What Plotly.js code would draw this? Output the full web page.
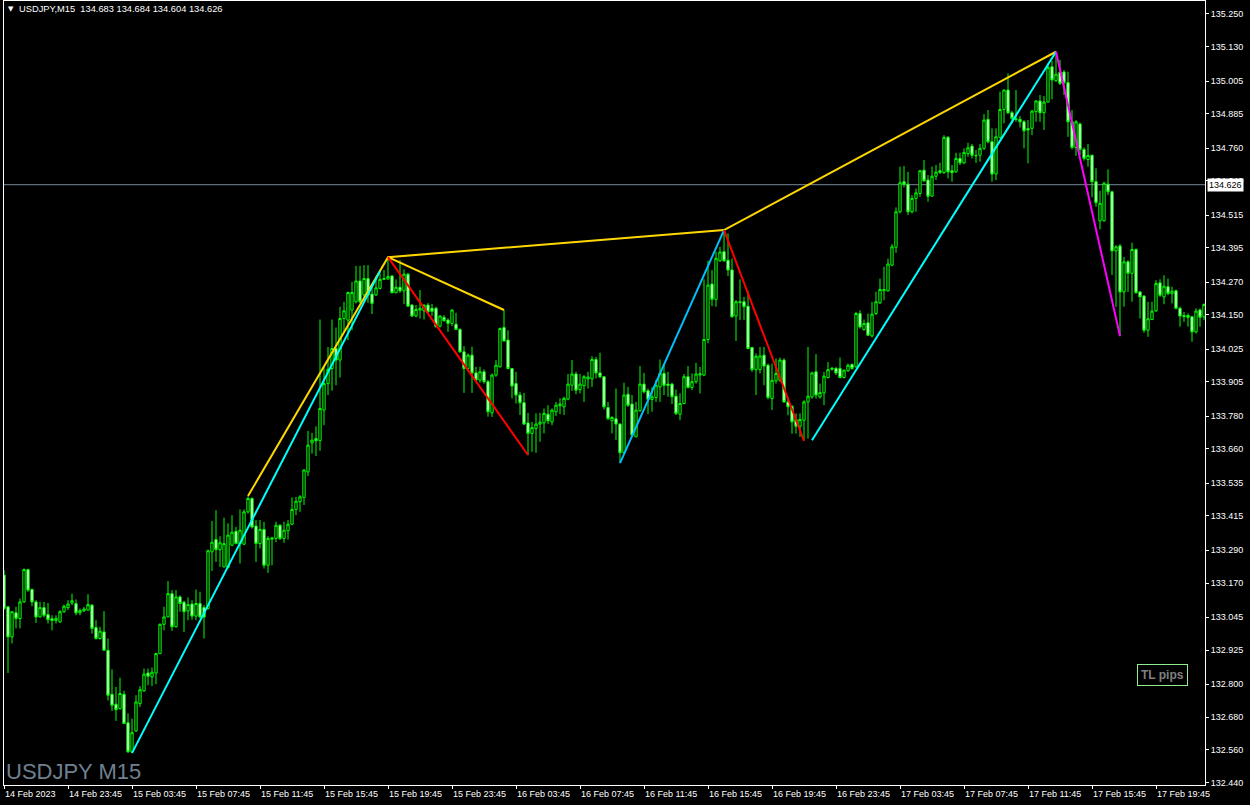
<!DOCTYPE html>
<html>
<head>
<meta charset="utf-8">
<script src="https://cdn.plot.ly/plotly-3.0.1.min.js"></script>
<style>html,body{margin:0;padding:0;background:#000;}#chart{width:1250px;height:805px;}</style>
</head>
<body>
<div id="chart"></div>
<script>
// ---- DATA ----
const symbol = "USDJPY,M15";
const headerValues = ["134.683", "134.684", "134.604", "134.626"];
const watermark = "USDJPY M15";
const buttonLabel = "TL pips";
const bidPrice = 134.626;

const xTickIdx = [0,16,32,48,64,80,96,112,128,144,160,176,192,208,224,240,256,272,288];
const xTickLabels = ["14 Feb 2023","14 Feb 23:45","15 Feb 03:45","15 Feb 07:45","15 Feb 11:45","15 Feb 15:45",
  "15 Feb 19:45","15 Feb 23:45","16 Feb 03:45","16 Feb 07:45","16 Feb 11:45","16 Feb 15:45","16 Feb 19:45",
  "16 Feb 23:45","17 Feb 03:45","17 Feb 07:45","17 Feb 11:45","17 Feb 15:45","17 Feb 19:45"];
const yTickVals = [135.250,135.130,135.005,134.885,134.760,134.640,134.515,134.395,134.270,134.150,134.025,133.905,
  133.780,133.660,133.535,133.415,133.290,133.170,133.045,132.925,132.800,132.680,132.560,132.440];

const opens = [
133.199,133.083,132.973,133.061,133.040,133.101,133.219,133.146,133.101,133.046,
133.080,133.055,133.039,133.033,133.028,133.065,133.080,133.097,133.095,133.061,
133.068,133.071,133.089,133.007,132.967,132.991,132.924,132.763,132.727,132.711,
132.763,132.659,132.553,132.629,132.729,132.776,132.841,132.827,132.841,132.912,
133.019,133.046,133.131,133.010,133.119,133.100,133.068,133.093,133.049,133.095,
133.080,133.077,133.284,133.329,133.292,133.229,133.227,133.308,133.359,133.314,
133.312,133.430,133.479,133.378,133.314,133.366,133.235,133.330,133.333,133.381,
133.333,133.361,133.385,133.439,133.467,133.483,133.576,133.682,133.698,133.690,
133.802,133.899,133.954,134.027,133.985,134.137,134.131,134.168,134.198,134.274,
134.223,134.283,134.226,134.223,134.247,134.280,134.281,134.292,134.231,134.251,
134.238,134.299,134.186,134.146,134.168,134.165,134.186,134.174,134.174,134.109,
134.141,134.131,134.119,134.116,134.097,134.015,133.954,134.003,133.938,133.912,
133.942,133.906,133.792,133.930,133.960,134.104,134.058,133.954,133.899,133.857,
133.829,133.755,133.717,133.735,133.751,133.755,133.787,133.759,133.796,133.818,
133.814,133.842,133.893,133.934,133.877,133.891,133.916,133.916,133.987,133.938,
133.924,133.812,133.763,133.770,133.751,133.646,133.860,133.824,133.704,133.800,
133.897,133.873,133.841,133.848,133.887,133.936,133.897,133.897,133.853,133.787,
133.826,133.924,133.885,133.906,133.930,133.930,134.060,134.263,134.207,134.348,
134.381,134.350,134.314,134.146,134.198,134.198,134.182,134.031,133.950,133.950,
134.003,133.966,133.844,133.909,133.911,133.985,133.832,133.816,133.768,133.743,
133.765,133.832,133.850,133.942,133.850,133.865,133.921,133.955,133.954,133.954,
133.921,133.946,133.969,133.960,134.155,134.097,134.121,134.073,134.155,134.194,
134.238,134.238,134.332,134.397,134.527,134.637,134.628,134.527,134.576,134.594,
134.679,134.643,134.584,134.657,134.677,134.670,134.799,134.677,134.673,134.722,
134.706,134.740,134.767,134.733,134.734,134.759,134.865,134.783,134.665,134.799,
134.901,134.972,134.889,134.867,134.865,134.856,134.831,134.832,134.893,134.932,
134.889,134.928,135.057,135.006,135.037,135.038,134.999,134.856,134.762,134.848,
134.755,134.718,134.734,134.637,134.494,134.494,134.628,134.600,134.384,134.402,
134.234,134.344,134.302,134.389,134.234,134.219,134.094,134.133,134.165,134.267,
134.216,134.253,134.228,134.238,134.174,134.148,134.148,134.143,134.088,134.168,
134.143];

const highs = [
133.217,133.085,133.067,133.083,133.113,133.223,133.222,133.150,133.107,133.101,
133.101,133.097,133.052,133.052,133.071,133.091,133.107,133.131,133.110,133.077,
133.083,133.129,133.093,133.034,133.010,133.067,132.967,132.854,132.790,132.824,
132.776,132.693,132.674,132.760,132.793,132.857,132.857,132.861,132.915,133.022,
133.083,133.177,133.144,133.144,133.125,133.105,133.117,133.107,133.146,133.138,
133.089,133.292,133.397,133.436,133.341,133.409,133.388,133.418,133.375,133.439,
133.439,133.487,133.483,133.400,133.400,133.394,133.341,133.339,133.394,133.385,
133.394,133.400,133.483,133.485,133.491,133.585,133.726,133.719,133.743,134.133,
133.960,134.033,134.133,134.104,134.180,134.198,134.235,134.271,134.329,134.329,
134.332,134.332,134.265,134.290,134.302,134.314,134.363,134.296,134.280,134.350,
134.316,134.304,134.190,134.186,134.241,134.190,134.194,134.190,134.180,134.149,
134.149,134.137,134.170,134.158,134.101,134.036,134.009,134.034,133.960,133.960,
133.951,133.912,133.936,133.985,134.104,134.168,134.094,133.954,133.942,133.869,
133.865,133.792,133.759,133.790,133.792,133.808,133.820,133.808,133.832,133.845,
133.851,133.934,133.985,133.942,133.934,133.930,133.942,133.999,133.997,134.012,
133.926,133.832,133.780,133.881,133.753,133.902,133.887,133.857,133.832,133.963,
133.938,133.881,133.885,133.912,133.987,133.972,133.942,133.902,133.877,133.863,
133.934,133.963,133.936,133.975,133.960,134.280,134.348,134.314,134.381,134.399,
134.460,134.448,134.356,134.204,134.280,134.216,134.238,134.033,134.009,134.033,
134.033,133.972,133.972,133.991,133.994,133.991,133.850,133.820,133.790,133.790,
133.838,134.033,133.942,134.007,133.899,133.942,133.978,133.960,133.960,133.994,
133.950,133.972,133.972,134.161,134.167,134.133,134.155,134.198,134.235,134.283,
134.326,134.356,134.409,134.543,134.692,134.694,134.673,134.588,134.612,134.679,
134.716,134.661,134.692,134.698,134.706,134.807,134.804,134.698,134.743,134.743,
134.759,134.779,134.775,134.753,134.775,134.884,134.899,134.832,134.832,134.966,
134.974,135.033,134.896,134.972,134.877,134.862,134.862,134.899,134.935,134.954,
134.950,135.070,135.079,135.112,135.082,135.045,135.039,134.899,134.862,134.853,
134.762,134.775,134.734,134.686,134.604,134.637,134.682,134.604,134.405,134.409,
134.362,134.350,134.414,134.393,134.238,134.222,134.198,134.198,134.277,134.280,
134.295,134.283,134.253,134.243,134.180,134.161,134.155,134.146,134.174,134.174,
134.192];

const lows = [
133.071,132.841,132.949,133.004,133.004,133.097,133.138,133.085,133.024,133.044,
133.044,133.022,132.997,133.022,133.024,133.061,133.071,133.089,133.052,133.052,
133.065,133.068,132.985,132.963,132.963,132.922,132.741,132.702,132.666,132.707,
132.654,132.549,132.549,132.626,132.717,132.772,132.796,132.793,132.800,132.910,
132.997,133.044,132.995,133.007,133.065,132.991,133.034,133.036,133.034,133.040,
132.967,133.073,133.214,133.247,133.229,133.227,133.223,133.305,133.312,133.241,
133.308,133.424,133.369,133.247,133.296,133.223,133.207,133.235,133.320,133.327,
133.317,133.329,133.381,133.418,133.430,133.455,133.561,133.643,133.634,133.653,
133.747,133.857,133.873,133.893,133.921,134.088,134.058,134.094,134.192,134.192,
134.204,134.194,134.153,134.219,134.243,134.277,134.280,134.229,134.229,134.231,
134.190,134.180,134.143,134.141,134.137,134.133,134.158,134.146,134.104,134.104,
134.125,134.088,134.109,134.094,134.012,133.865,133.942,133.865,133.906,133.902,
133.899,133.778,133.777,133.924,133.958,134.052,133.951,133.845,133.826,133.784,
133.747,133.637,133.650,133.646,133.686,133.717,133.751,133.747,133.780,133.787,
133.784,133.838,133.873,133.860,133.863,133.832,133.881,133.887,133.918,133.918,
133.804,133.765,133.717,133.692,133.610,133.643,133.814,133.704,133.704,133.796,
133.863,133.787,133.796,133.832,133.832,133.857,133.851,133.824,133.784,133.765,
133.824,133.881,133.875,133.899,133.863,133.926,134.046,134.182,134.180,134.344,
134.344,134.292,134.141,134.055,134.131,134.131,134.024,133.942,133.857,133.936,
133.893,133.841,133.802,133.899,133.905,133.829,133.783,133.716,133.716,133.704,
133.692,133.698,133.844,133.844,133.844,133.820,133.918,133.946,133.930,133.918,
133.918,133.942,133.950,133.958,134.100,134.092,134.073,134.068,134.149,134.190,
134.204,134.235,134.328,134.377,134.521,134.616,134.515,134.521,134.527,134.582,
134.637,134.564,134.582,134.643,134.665,134.665,134.649,134.637,134.670,134.698,
134.701,134.728,134.722,134.706,134.710,134.753,134.777,134.637,134.643,134.795,
134.850,134.884,134.850,134.856,134.835,134.759,134.704,134.807,134.856,134.856,
134.826,134.926,134.938,135.002,134.990,134.954,134.801,134.755,134.731,134.734,
134.714,134.692,134.580,134.545,134.463,134.491,134.588,134.296,134.180,134.072,
134.180,134.234,134.198,134.228,134.137,134.085,134.070,134.131,134.161,134.216,
134.189,134.222,134.192,134.170,134.107,134.125,134.107,134.052,134.082,134.107,
134.131];

const closes = [
133.077,132.973,133.065,133.040,133.101,133.219,133.144,133.101,133.046,133.080,
133.052,133.036,133.033,133.041,133.065,133.085,133.093,133.105,133.061,133.069,
133.075,133.091,133.004,132.967,132.994,132.924,132.760,132.723,132.707,132.766,
132.656,132.553,132.623,132.735,132.780,132.837,132.829,132.844,132.912,133.019,
133.046,133.131,133.010,133.119,133.095,133.065,133.091,133.049,133.095,133.046,
133.046,133.288,133.319,133.292,133.317,133.314,133.345,133.356,133.314,133.363,
133.430,133.479,133.375,133.314,133.366,133.235,133.333,133.335,133.381,133.333,
133.363,133.385,133.439,133.469,133.485,133.583,133.674,133.692,133.690,133.808,
133.899,133.951,134.027,133.985,134.137,134.165,134.232,134.232,134.274,134.198,
134.283,134.223,134.192,134.249,134.280,134.283,134.290,134.231,134.251,134.238,
134.299,134.182,134.146,134.170,134.174,134.185,134.161,134.163,134.107,134.146,
134.129,134.119,134.168,134.097,134.015,133.954,134.003,133.938,133.912,133.942,
133.906,133.796,133.930,133.966,134.100,134.055,133.954,133.890,133.857,133.829,
133.751,133.717,133.738,133.751,133.758,133.790,133.763,133.802,133.820,133.824,
133.845,133.897,133.934,133.875,133.897,133.924,133.923,133.987,133.938,133.924,
133.814,133.771,133.775,133.751,133.646,133.857,133.820,133.711,133.802,133.897,
133.869,133.841,133.851,133.893,133.936,133.893,133.892,133.851,133.790,133.826,
133.924,133.885,133.906,133.934,133.935,134.060,134.259,134.207,134.357,134.380,
134.348,134.314,134.143,134.198,134.195,134.180,134.027,133.950,133.999,134.000,
133.963,133.848,133.911,133.936,133.985,133.832,133.814,133.759,133.743,133.768,
133.832,133.853,133.938,133.857,133.866,133.926,133.950,133.952,133.938,133.921,
133.948,133.966,133.954,134.155,134.106,134.119,134.076,134.153,134.198,134.243,
134.243,134.336,134.399,134.527,134.633,134.628,134.527,134.576,134.596,134.677,
134.640,134.584,134.657,134.672,134.671,134.799,134.673,134.670,134.722,134.706,
134.744,134.761,134.734,134.732,134.759,134.862,134.783,134.665,134.801,134.901,
134.972,134.889,134.868,134.865,134.856,134.823,134.826,134.895,134.932,134.889,
134.928,135.055,135.009,135.030,134.996,134.999,134.856,134.762,134.856,134.755,
134.722,134.733,134.637,134.560,134.558,134.631,134.600,134.384,134.399,134.234,
134.344,134.302,134.389,134.231,134.216,134.094,134.136,134.164,134.265,134.222,
134.255,134.228,134.237,134.174,134.146,134.144,134.141,134.088,134.164,134.141,
134.188];

// trend lines: bar index / price pairs
const goldPathX = [61, 96, 180, 263];
const goldPathY = [133.488, 134.361, 134.460, 135.112];
const goldBranchX = [96, 125];
const goldBranchY = [134.361, 134.168];
const aqua1X = [32, 94];
const aqua1Y = [132.548, 134.310];
const skyX = [154, 180];
const skyY = [133.608, 134.460];
const aqua2X = [202, 263];
const aqua2Y = [133.692, 135.112];
const red1X = [96, 131];
const red1Y = [134.361, 133.638];
const red2X = [180, 200];
const red2Y = [134.460, 133.689];
const magentaX = [263, 279];
const magentaY = [135.112, 134.073];

// ---- CHART ----
const barIdx = opens.map((_, i) => i);
const font = 'Liberation Sans, Arial, sans-serif';

const traces = [
  {
    type: 'candlestick', x: barIdx, open: opens, high: highs, low: lows, close: closes,
    increasing: {line: {color: '#00FF00', width: 1}, fillcolor: '#000000'},
    decreasing: {line: {color: '#00FF00', width: 1}, fillcolor: '#FFFFFF'},
    whiskerwidth: 0, hoverinfo: 'skip', showlegend: false
  }
];
function addLine(xs, ys, color) {
  traces.push({type: 'scatter', mode: 'lines', x: xs, y: ys, line: {color: color, width: 2},
    hoverinfo: 'skip', showlegend: false});
}
addLine(goldPathX, goldPathY, '#FFD700');
addLine(goldBranchX, goldBranchY, '#FFD700');
addLine(aqua1X, aqua1Y, '#00FFFF');
addLine(skyX, skyY, '#00BFFF');
addLine(aqua2X, aqua2Y, '#00FFFF');
addLine(red1X, red1Y, '#FF0000');
addLine(red2X, red2Y, '#FF0000');
addLine(magentaX, magentaY, '#FF00FF');

const NB = '\u00A0';
const layout = {
  width: 1250, height: 805,
  paper_bgcolor: '#000000', plot_bgcolor: '#000000',
  margin: {l: 4, r: 45, t: 1, b: 20},
  showlegend: false,
  boxgap: 0.18,
  xaxis: {
    type: 'linear', range: [0, 300.25], rangeslider: {visible: false},
    showgrid: false, zeroline: false, showline: true, mirror: true,
    linecolor: '#FFFFFF', linewidth: 1,
    ticks: 'outside', ticklen: 3, tickcolor: '#FFFFFF', tickwidth: 1,
    tickmode: 'array', tickvals: xTickIdx, ticktext: xTickLabels,
    ticklabelposition: 'outside right',
    tickfont: {family: font, size: 9, color: '#FFFFFF'},
    fixedrange: true
  },
  yaxis: {
    side: 'right', range: [132.4316, 135.2975],
    showgrid: false, zeroline: false, showline: true, mirror: true,
    linecolor: '#FFFFFF', linewidth: 1,
    ticks: 'outside', ticklen: 3, tickcolor: '#FFFFFF', tickwidth: 1,
    tickmode: 'array', tickvals: yTickVals, tickformat: '.3f',
    tickfont: {family: font, size: 9, color: '#FFFFFF'},
    fixedrange: true
  },
  shapes: [
    {type: 'line', xref: 'paper', x0: 0, x1: 1, yref: 'y', y0: bidPrice, y1: bidPrice,
     line: {color: '#778899', width: 1}, layer: 'below'}
  ],
  annotations: [
    {xref: 'paper', yref: 'paper', x: 0, y: 1, xanchor: 'left', yanchor: 'top', xshift: 2, yshift: -2,
     text: '\u25BC', showarrow: false, font: {family: 'DejaVu Sans', size: 7, color: '#FFFFFF'}},
    {xref: 'paper', yref: 'paper', x: 0, y: 1, xanchor: 'left', yanchor: 'top', xshift: 13, yshift: -1,
     text: symbol + NB + NB + headerValues.join(' '), showarrow: false,
     font: {family: font, size: 9.3, color: '#FFFFFF'}},
    {xref: 'paper', yref: 'paper', x: 0, y: 0, xanchor: 'left', yanchor: 'bottom', xshift: 0, yshift: -1,
     text: watermark, showarrow: false, font: {family: font, size: 22, color: '#708090'}},
    {xref: 'paper', yref: 'paper', x: 0.9642, y: 0.1405, xanchor: 'center', yanchor: 'middle',
     text: '<b>' + buttonLabel + '</b>', showarrow: false, bgcolor: '#000000',
     bordercolor: '#90EE90', borderwidth: 1, borderpad: 3,
     font: {family: font, size: 12, color: '#808080'}},
    {xref: 'paper', yref: 'y', x: 1, y: bidPrice, xanchor: 'left', yanchor: 'middle', xshift: 2,
     text: bidPrice.toFixed(3), showarrow: false, bgcolor: '#FFFFFF', borderpad: 1,
     font: {family: font, size: 9, color: '#000000'}}
  ]
};

Plotly.newPlot('chart', traces, layout, {displayModeBar: false, staticPlot: true});
</script>
</body>
</html>
